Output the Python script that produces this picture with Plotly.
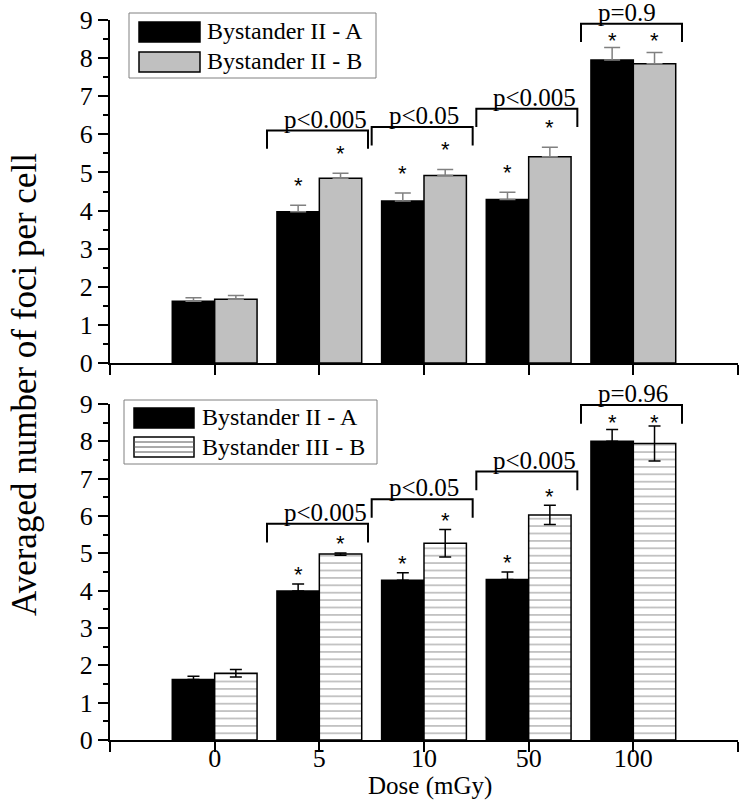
import plotly.graph_objects as go

# ---------------- data ----------------
doses = ["0", "5", "10", "50", "100"]
series_top = ["Bystander II - A", "Bystander II - B"]
series_bottom = ["Bystander II - A", "Bystander III - B"]

top_a = [1.62, 3.97, 4.25, 4.29, 7.95]
top_a_err = [0.09, 0.17, 0.21, 0.19, 0.33]
top_b = [1.67, 4.85, 4.92, 5.41, 7.85]
top_b_err = [0.10, 0.13, 0.16, 0.25, 0.30]

bot_a = [1.62, 3.99, 4.28, 4.30, 8.00]
bot_a_err = [0.09, 0.19, 0.20, 0.20, 0.32]
bot_b = [1.79, 4.98, 5.27, 6.03, 7.94]
bot_b_err = [0.10, 0.03, 0.37, 0.26, 0.47]

top_sig = [False, True, True, True, True]
bot_sig = [False, True, True, True, True]
top_p = ["", "p<0.005", "p<0.05", "p<0.005", "p=0.9"]
bot_p = ["", "p<0.005", "p<0.05", "p<0.005", "p=0.96"]

y_ticks = list(range(10))
y_title = "Averaged number of foci per cell"
x_title = "Dose (mGy)"

# ---------------- style / layout ----------------
W, H = 740, 802
SERIF = "Liberation Serif, Times New Roman, serif"
SANS = "Liberation Sans, Arial, sans-serif"
GRAY = "#c0c0c0"
BARGAP = 0.19
# plot area in page pixels: x 110..738, y 20..740
PL, PR, PT, PB = 110, 738, 20, 740


def fx(px):
    return (px - PL) / (PR - PL)


def fy(py):
    return (PB - py) / (PB - PT)


xs = list(range(len(doses)))
zeros = [0] * len(doses)

fig = go.Figure()

# top panel
fig.add_trace(go.Bar(
    x=xs, y=top_a, name=series_top[0], xaxis="x", yaxis="y", showlegend=False,
    marker=dict(color="black", line=dict(color="black", width=1.5)),
    error_y=dict(type="data", array=top_a_err, arrayminus=zeros, symmetric=False,
                 color="#808080", thickness=1.5, width=8)))
fig.add_trace(go.Bar(
    x=xs, y=top_b, name=series_top[1], xaxis="x", yaxis="y", showlegend=False,
    marker=dict(color=GRAY, line=dict(color="black", width=1.5)),
    error_y=dict(type="data", array=top_b_err, arrayminus=zeros, symmetric=False,
                 color="#808080", thickness=1.5, width=8)))

# bottom panel
fig.add_trace(go.Bar(
    x=xs, y=bot_a, name=series_bottom[0], xaxis="x2", yaxis="y2", showlegend=False,
    marker=dict(color="black", line=dict(color="black", width=1.5)),
    error_y=dict(type="data", array=bot_a_err, arrayminus=zeros, symmetric=False,
                 color="black", thickness=1.5, width=6)))
fig.add_trace(go.Bar(
    x=xs, y=bot_b, name=series_bottom[1], xaxis="x2", yaxis="y2", showlegend=False,
    marker=dict(color="white", line=dict(color="black", width=1.5),
                pattern=dict(shape="-", size=7.4, solidity=0.15,
                             fgcolor="#333333", bgcolor="white")),
    error_y=dict(type="data", array=bot_b_err, symmetric=True,
                 color="black", thickness=1.5, width=6)))

common_x = dict(range=[-1, 5], showline=True, linecolor="black", linewidth=2,
                ticks="outside", ticklen=10, tickwidth=2, tickcolor="black",
                tickvals=[-1] + xs + [len(xs)], showgrid=False, zeroline=False,
                domain=[0, 1], fixedrange=True, automargin=False,
                ticklabeloverflow="allow",
                tickfont=dict(family=SERIF, size=26, color="black"))
common_y = dict(range=[0, 9], showline=True, linecolor="black", linewidth=2,
                ticks="outside", ticklen=10, tickwidth=2, tickcolor="black",
                tickvals=y_ticks, showgrid=False, zeroline=False, automargin=False,
                fixedrange=True, ticklabeloverflow="allow",
                minor=dict(dtick=0.5, ticks="outside", ticklen=5, tickwidth=1.5,
                           tickcolor="black", showgrid=False),
                tickfont=dict(family=SERIF, size=26, color="black"))

fig.update_layout(
    width=W, height=H,
    margin=dict(l=PL, r=W - PR, t=PT, b=H - PB, autoexpand=False),
    paper_bgcolor="white", plot_bgcolor="white",
    barmode="group", bargap=BARGAP, bargroupgap=0,
    xaxis=dict(common_x, anchor="y", showticklabels=False),
    xaxis2=dict(common_x, anchor="y2", showticklabels=True,
                ticktext=[""] + doses + [""], ticklabelstandoff=-16),
    yaxis=dict(common_y, anchor="x", domain=[fy(363), fy(20)]),
    yaxis2=dict(common_y, anchor="x2", domain=[fy(740), fy(404)]),
)

shapes = []
annotations = []

# brackets, p-values and stars
half = (1 - BARGAP) / 4
panels = [
    ("x", "y", top_a, top_a_err, top_b, top_b_err, top_sig, top_p,
     [None, 6.10, 6.19, 6.67, 8.90], 0.48, 0.55),
    ("x2", "y2", bot_a, bot_a_err, bot_b, bot_b_err, bot_sig, bot_p,
     [None, 5.79, 6.45, 7.19, 8.97], 0.50, 0.27),
]
for xr, yr, a, ae, b, be, sig, pv, levels, depth, star_off in panels:
    for i in xs:
        if pv[i]:
            lv = levels[i]
            x0, x1 = i - 0.5, i + 0.465
            shapes.append(dict(type="path", xref=xr, yref=yr,
                               path=f"M {x0},{lv - depth} L {x0},{lv} L {x1},{lv} L {x1},{lv - depth}",
                               line=dict(color="black", width=2)))
            annotations.append(dict(x=x0, y=lv, xref=xr, yref=yr, text=pv[i],
                                    showarrow=False, xanchor="left", yanchor="bottom",
                                    xshift=15, yshift=-4,
                                    font=dict(family=SERIF, size=25, color="black")))
        if sig[i]:
            cap = levels[i] - depth if levels[i] else 99
            for xc, v, e in ((i - half, a[i], ae[i]), (i + half, b[i], be[i])):
                ys = min(v + e + star_off, cap + 0.07)
                annotations.append(dict(x=xc, y=ys, xref=xr, yref=yr, text="*",
                                        showarrow=False, xanchor="center", yanchor="middle",
                                        yshift=-1,
                                        font=dict(family=SANS, size=22, color="black")))

# manual legends (wide swatches as in the reference)
# top legend
shapes.append(dict(type="rect", xref="paper", yref="paper", x0=fx(129), x1=fx(376),
                   y0=fy(78), y1=fy(13), line=dict(color="#808080", width=1),
                   fillcolor="white", layer="above"))
shapes.append(dict(type="rect", xref="paper", yref="paper", x0=fx(139), x1=fx(200),
                   y0=fy(42), y1=fy(22), line=dict(color="black", width=1.5),
                   fillcolor="black", layer="above"))
shapes.append(dict(type="rect", xref="paper", yref="paper", x0=fx(139), x1=fx(200),
                   y0=fy(72), y1=fy(52), line=dict(color="black", width=1.5),
                   fillcolor=GRAY, layer="above"))
for name, py in zip(series_top, (31, 61)):
    annotations.append(dict(x=fx(205), y=fy(py), xref="paper", yref="paper", text=name,
                            showarrow=False, xanchor="left", yanchor="middle",
                            font=dict(family=SERIF, size=24, color="black")))
# bottom legend
shapes.append(dict(type="rect", xref="paper", yref="paper", x0=fx(124), x1=fx(377),
                   y0=fy(464), y1=fy(400), line=dict(color="#808080", width=1),
                   fillcolor="white", layer="above"))
shapes.append(dict(type="rect", xref="paper", yref="paper", x0=fx(134), x1=fx(194),
                   y0=fy(428), y1=fy(408), line=dict(color="black", width=1.5),
                   fillcolor="black", layer="above"))
shapes.append(dict(type="rect", xref="paper", yref="paper", x0=fx(134), x1=fx(194),
                   y0=fy(457), y1=fy(437), line=dict(color="black", width=1.5),
                   fillcolor="white", layer="above"))
for py in (442, 447, 452):
    shapes.append(dict(type="line", xref="paper", yref="paper", x0=fx(134), x1=fx(194),
                       y0=fy(py), y1=fy(py), line=dict(color="#555555", width=1),
                       layer="above"))
for name, py in zip(series_bottom, (417, 447)):
    annotations.append(dict(x=fx(200), y=fy(py), xref="paper", yref="paper", text=name,
                            showarrow=False, xanchor="left", yanchor="middle",
                            font=dict(family=SERIF, size=24, color="black")))

# axis titles
annotations.append(dict(x=fx(24), y=fy(385), xref="paper", yref="paper", text=y_title,
                        showarrow=False, textangle=-90, xanchor="center", yanchor="middle",
                        font=dict(family=SERIF, size=35, color="black")))
annotations.append(dict(x=fx(430), y=fy(786), xref="paper", yref="paper", text=x_title,
                        showarrow=False, xanchor="center", yanchor="middle",
                        font=dict(family=SERIF, size=25, color="black")))

fig.update_layout(shapes=shapes, annotations=annotations)
# remove the default page margin so the figure sits at the page origin
fig.write_html("out.html", config={"displayModeBar": False},
               post_script="document.body.style.margin='0px';")
